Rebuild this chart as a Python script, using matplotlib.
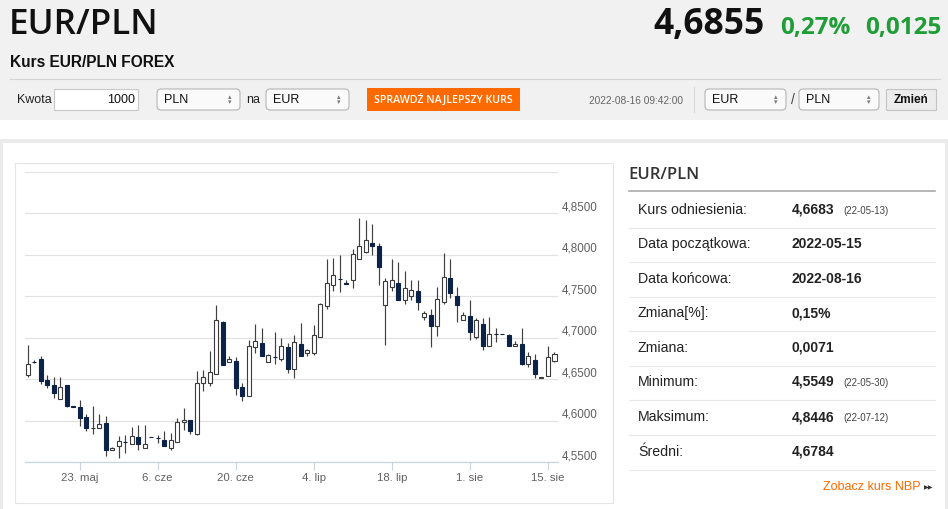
import matplotlib
matplotlib.use('Agg')
import matplotlib.pyplot as plt
from matplotlib.patches import Rectangle, FancyBboxPatch
import pandas as pd

# ---- dane świec EUR/PLN, dni Nd-Pt od 2022-05-13 ----
opens = [4.6553, 4.6712, 4.6747, 4.6485, 4.6425, 4.6264, 4.6433, 4.6179, 4.6159, 4.6043,
         4.5914, 4.5914, 4.5970, 4.5645, 4.5689, 4.5741, 4.5721, 4.5801, 4.5673, 4.5803,
         4.5789, 4.5761, 4.5673, 4.5741, 4.5978, 4.6002, 4.5842, 4.6450, 4.6450, 4.6563,
         4.7186, 4.6712, 4.6720, 4.6410, 4.6293, 4.6893, 4.6937, 4.6712, 4.6771, 4.6738,
         4.6891, 4.6617, 4.6919, 4.6819, 4.6819, 4.7012, 4.7382, 4.7631, 4.7704, 4.7655,
         4.7696, 4.7953, 4.8033, 4.8146, 4.8106, 4.7390, 4.7615, 4.7663, 4.7454, 4.7502,
         4.7567, 4.7253, 4.7269, 4.7140, 4.7430, 4.7724, 4.7500, 4.7214, 4.7258, 4.7012,
         4.7165, 4.6903, 4.7044, 4.7046, 4.7032, 4.6895, 4.6923, 4.6681, 4.6734, 4.6510,
         4.6532, 4.6722]
highs = [4.6907, 4.6730, 4.6779, 4.6553, 4.6525, 4.6525, 4.6433, 4.6179, 4.6252, 4.6083,
         4.6171, 4.6075, 4.6051, 4.5676, 4.5817, 4.5829, 4.5922, 4.5950, 4.5950, 4.5803,
         4.5829, 4.5870, 4.5854, 4.6035, 4.6155, 4.6010, 4.6598, 4.6615, 4.6836, 4.7395,
         4.7198, 4.6784, 4.6764, 4.6454, 4.6977, 4.7166, 4.7114, 4.6800, 4.7073, 4.6993,
         4.6939, 4.7028, 4.7173, 4.6860, 4.7148, 4.7414, 4.7953, 4.7965, 4.7993, 4.7696,
         4.8066, 4.8446, 4.8420, 4.8367, 4.8146, 4.7724, 4.7945, 4.7913, 4.7804, 4.7696,
         4.7696, 4.7320, 4.7350, 4.7615, 4.8017, 4.7953, 4.7609, 4.7315, 4.7456, 4.7234,
         4.7234, 4.7246, 4.7113, 4.7046, 4.7044, 4.6964, 4.7113, 4.6831, 4.6802, 4.6528,
         4.6895, 4.6823]
lows = [4.6525, 4.6700, 4.6445, 4.6397, 4.6276, 4.6264, 4.6163, 4.6159, 4.5930, 4.5874,
        4.5842, 4.5914, 4.5568, 4.5640, 4.5549, 4.5608, 4.5721, 4.5648, 4.5673, 4.5799,
        4.5733, 4.5693, 4.5640, 4.5741, 4.5890, 4.5842, 4.5821, 4.6362, 4.6422, 4.6563,
        4.6675, 4.6712, 4.6310, 4.6241, 4.6293, 4.6812, 4.6784, 4.6704, 4.6682, 4.6720,
        4.6569, 4.6517, 4.6778, 4.6778, 4.6786, 4.7012, 4.7350, 4.7563, 4.7551, 4.7643,
        4.7603, 4.7953, 4.8025, 4.7993, 4.7631, 4.6907, 4.7563, 4.7454, 4.7402, 4.7454,
        4.7333, 4.7213, 4.6891, 4.7020, 4.7402, 4.7482, 4.7185, 4.7214, 4.6976, 4.6984,
        4.6851, 4.6903, 4.6944, 4.7042, 4.6895, 4.6895, 4.6669, 4.6641, 4.6508, 4.6508,
        4.6532, 4.6710]
closes = [4.6683, 4.6712, 4.6477, 4.6425, 4.6336, 4.6405, 4.6171, 4.6163, 4.6031, 4.5914,
          4.5916, 4.5962, 4.5640, 4.5670, 4.5757, 4.5741, 4.5817, 4.5713, 4.5721, 4.5799,
          4.5789, 4.5693, 4.5761, 4.5982, 4.6002, 4.5870, 4.6453, 4.6523, 4.6591, 4.7218,
          4.6675, 4.6744, 4.6390, 4.6293, 4.6905, 4.6965, 4.6784, 4.6792, 4.6771, 4.6899,
          4.6626, 4.6947, 4.6778, 4.6851, 4.7028, 4.7406, 4.7663, 4.7752, 4.7704, 4.7643,
          4.8005, 4.8106, 4.8182, 4.8106, 4.7856, 4.7683, 4.7696, 4.7454, 4.7603, 4.7575,
          4.7430, 4.7301, 4.7140, 4.7470, 4.7736, 4.7535, 4.7395, 4.7274, 4.7065, 4.7214,
          4.6903, 4.7044, 4.7044, 4.7042, 4.6903, 4.6923, 4.6681, 4.6782, 4.6560, 4.6520,
          4.6762, 4.6802]

tick_dates = ['2022-05-23', '2022-06-06', '2022-06-20', '2022-07-04',
              '2022-07-18', '2022-08-01', '2022-08-15']
tick_labels = ['23. maj', '6. cze', '20. cze', '4. lip', '18. lip', '1. sie', '15. sie']
y_ticks = [4.55, 4.60, 4.65, 4.70, 4.75, 4.80, 4.85, 4.90]

stat_labels = ['Kurs odniesienia:', 'Data początkowa:', 'Data końcowa:', 'Zmiana[%]:',
               'Zmiana:', 'Minimum:', 'Maksimum:', 'Średni:']
stat_values = ['4,6683', '2022-05-15', '2022-08-16', '0,15%', '0,0071',
               '4,5549', '4,8446', '4,6784']
stat_dates = ['(22-05-13)', '', '', '', '', '(22-05-30)', '(22-07-12)', '']

# oś porządkowa: tylko dni notowań (bez sobót)
days = pd.date_range('2022-05-13', '2022-08-16')
days = [d for d in days if d.weekday() != 5]
idx = list(range(len(days)))
tick_pos = [days.index(pd.Timestamp(t)) for t in tick_dates]

W, H = 948, 509
FONT = ['Liberation Sans', 'DejaVu Sans']
HEAD = ['Open Sans', 'DejaVu Sans']
plt.rcParams['font.family'] = FONT
fig = plt.figure(figsize=(W / 100, H / 100), dpi=100)
fig.patch.set_facecolor('white')

bg = fig.add_axes([0, 0, 1, 1])
bg.set_xlim(0, W); bg.set_ylim(H, 0); bg.axis('off')

# ---- nagłówek ----
bg.add_patch(Rectangle((0, 0), W, 120, fc='#f1f1f1', ec='none'))
bg.plot([10, 940], [79, 79], color='#d4d4d4', lw=0.8)
bg.text(9, 25, 'EUR/PLN', family=HEAD, weight='semibold', fontsize=25.3, color='#111', va='center')
bg.text(10, 62, 'Kurs EUR/PLN FOREX', weight='bold', fontsize=11.2, color='#111', va='center')
bg.text(765, 25, '4,6855', family=HEAD, weight='bold', fontsize=25.5, color='#111', va='center', ha='right')
bg.text(851, 28, '0,27%', family=HEAD, weight='bold', fontsize=17.5, color='#1f9d36', va='center', ha='right')
bg.text(941, 28, '0,0125', family=HEAD, weight='bold', fontsize=17.5, color='#1f9d36', va='center', ha='right')

def select(x0, x1, label):
    bg.add_patch(FancyBboxPatch((x0, 89), x1 - x0, 21, boxstyle='round,pad=0,rounding_size=4',
                                fc='#fafafa', ec='#b4b4b4', lw=0.8))
    bg.text(x0 + 7, 99.5, label, fontsize=9, color='#111', va='center')
    bg.text(x1 - 10, 97, '▴', family=['DejaVu Sans'], fontsize=5, color='#777', va='center', ha='center')
    bg.text(x1 - 10, 102.5, '▾', family=['DejaVu Sans'], fontsize=5, color='#777', va='center', ha='center')

bg.text(17, 100, 'Kwota', fontsize=9, color='#222', va='center')
bg.add_patch(Rectangle((54, 89), 84, 21, fc='white', ec='#c8c8c8', lw=0.8))
bg.text(135, 100, '1000', fontsize=9, color='#111', va='center', ha='right')
select(157, 240, 'PLN')
bg.text(246, 99.5, 'na', fontsize=9, color='#222', va='center')
select(266, 349, 'EUR')
bg.add_patch(Rectangle((367, 88), 153, 23, fc='#ff6a00', ec='none'))
bg.text(443.5, 99.5, 'SPRAWDŹ NAJLEPSZY KURS', family=HEAD, weight='semibold', fontsize=7.7,
        color='white', va='center', ha='center')
bg.text(683, 100.5, '2022-08-16 09:42:00', fontsize=7.3, color='#666', va='center', ha='right')
bg.plot([694, 694], [87, 112], color='#d8d8d8', lw=0.8)
select(705, 786, 'EUR')
bg.text(793, 99.5, '/', fontsize=10, color='#444', va='center', ha='center')
select(799, 879, 'PLN')
bg.add_patch(Rectangle((886, 89), 50, 21, fc='#ececec', ec='#c4c4c4', lw=0.8))
bg.text(911, 100, 'Zmień', weight='bold', fontsize=8.5, color='#111', va='center', ha='center')

# ---- panel dolny ----
bg.add_patch(Rectangle((0, 139), W, H - 139, fc='#ebebeb', ec='none'))
bg.add_patch(Rectangle((3, 143), 942, H - 143, fc='white', ec='none'))
bg.add_patch(Rectangle((15, 163), 598, 340, fc='white', ec='#e4e4e4', lw=0.8))

# tabela statystyk
bg.text(628, 175, 'EUR/PLN', family=HEAD, weight='semibold', fontsize=12, color='#333', va='center')
bg.plot([629, 935], [191, 191], color='#aaaaaa', lw=1.2)
row_y = [210, 244, 279, 313, 348, 382, 417, 452]
for y, lab, val, dt in zip(row_y, stat_labels, stat_values, stat_dates):
    bg.text(638, y, lab, fontsize=10.2, color='#222', va='center')
    bg.text(792, y, val, fontsize=10, weight='bold', color='#222', va='center')
    if dt:
        bg.text(843, y + 1, dt, fontsize=7, color='#444', va='center')
    bg.plot([629, 935], [y + 18, y + 18], color='#e8e8e8', lw=0.8)
bg.text(921, 487, 'Zobacz kurs NBP', fontsize=9, color='#ff6a00', va='center', ha='right')
bg.text(929, 487.5, '▶▶', family=['DejaVu Sans'], fontsize=4.5, color='#333', va='center', ha='center')

# ---- wykres świecowy ----
ax = fig.add_axes([25 / W, 1 - 462 / H, 533 / W, 290 / H])
ax.set_facecolor('none')
ax.set_xlim(-0.4, len(idx) - 0.45)
ax.set_ylim(4.55, 4.90)
ax.vlines(idx, lows, highs, color='#404040', lw=0.85, zorder=2)
up = [c > o for o, c in zip(opens, closes)]
body_lo = [min(o, c) for o, c in zip(opens, closes)]
body_h = [abs(c - o) for o, c in zip(opens, closes)]
ax.bar(idx, body_h, bottom=body_lo, width=0.64,
       color=['white' if u else '#0c2246' for u in up],
       edgecolor=['#3a3a3a' if u else '#0c2246' for u in up], lw=0.8, zorder=3)

ax.set_yticks(y_ticks)
ax.yaxis.tick_right()
ax.set_yticklabels([('%.4f' % v).replace('.', ',') if v < 4.9 else '' for v in y_ticks])
for lbl in ax.get_yticklabels():
    lbl.set_verticalalignment('bottom')
ax.tick_params(axis='y', length=0, pad=3, labelsize=8.4, labelcolor='#606060')
ax.grid(axis='y', color='#e2e2e2', lw=0.9, zorder=0)
ax.set_xticks(tick_pos)
ax.set_xticklabels(tick_labels)
ax.tick_params(axis='x', length=6, width=0.8, color='#c8d4e2', labelsize=8.2,
               labelcolor='#606060', pad=2)
for s in ['top', 'left', 'right']:
    ax.spines[s].set_visible(False)
ax.spines['bottom'].set_color('#c8d4e2')
ax.spines['bottom'].set_linewidth(0.9)

fig.savefig('out.png', dpi=100)
